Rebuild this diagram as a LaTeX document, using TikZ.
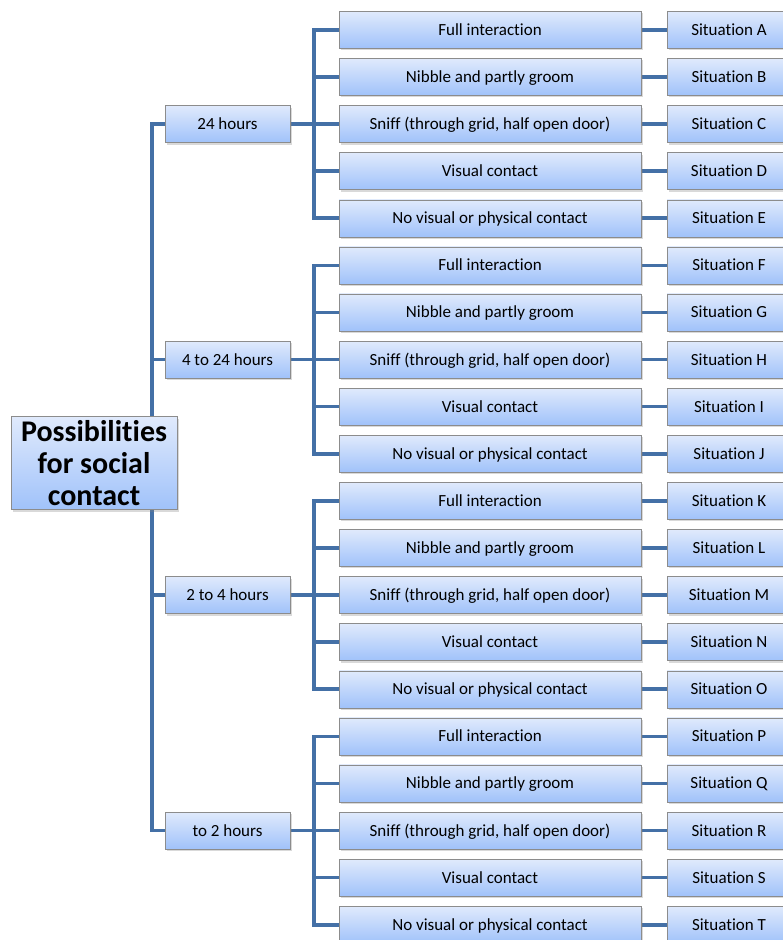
\documentclass[tikz,border=0pt]{standalone}
\usepackage{fontspec}
\setmainfont{Carlito}[Ligatures=NoCommon]
\usetikzlibrary{positioning, shadows, backgrounds}
\definecolor{linkblue}{RGB}{68,112,166}
\definecolor{boxtop}{RGB}{224,234,252}
\definecolor{boxbot}{RGB}{160,194,250}
\newcounter{sitnum}
\tikzset{
  box/.style={draw=black!45, thin, top color=boxtop, bottom color=boxbot,
    drop shadow={shadow xshift=1.5pt, shadow yshift=-2pt, opacity=0.3},
    minimum height=37pt, inner sep=0pt, text height=13pt, text depth=2pt,
    font=\fontsize{17}{20}\selectfont},
  rootbox/.style={box, minimum width=166pt, minimum height=93pt, align=center,
    text height=, text depth=, font=\fontsize{30}{32}\selectfont\bfseries},
  midbox/.style={box, minimum width=125pt},
  leafbox/.style={box, minimum width=302pt},
  sitbox/.style={box, minimum width=124pt},
  link/.style={draw=linkblue, line width=3.6pt}
}
\begin{document}
\begin{tikzpicture}[x=1pt, y=-1pt]
\useasboundingbox (0,0) rectangle (783,940);
\node (root) at (94,463) [rootbox] {Possibilities\\for social\\contact};
\node (m1) at (227.5,124)   [midbox] {24 hours};
\node (m2) at (227.5,359.5) [midbox] {4 to 24 hours};
\node (m3) at (227.5,595)   [midbox] {2 to 4 hours};
\node (m4) at (227.5,830.5) [midbox] {to 2 hours};
\foreach \g/\y in {1/124, 2/359.5, 3/595, 4/830.5}{
  \foreach \lab [count=\j] in {Full interaction, Nibble and partly groom,
      {Sniff (through grid, half open door)}, Visual contact,
      No visual or physical contact}{
    \pgfmathsetmacro\ly{\y+(\j-3)*47.1}
    \pgfmathtruncatemacro\n{(\g-1)*5+\j}
    \setcounter{sitnum}{\n}
    \node (l\g\j) at (490,\ly) [leafbox] {\lab};
    \node (s\g\j) at (729,\ly) [sitbox] {Situation \Alph{sitnum}};
    \begin{scope}[on background layer]
      \draw[link] (m\g.east) -- ++(24,0) |- (l\g\j.west);
      \draw[link] (l\g\j) -- (s\g\j);
    \end{scope}
  }
}
\begin{scope}[on background layer]
\draw[link] (m1.west) -- ++(-13,0) |- (m4.west);
\draw[link] (m2.west) -- ++(-13,0);
\draw[link] (m3.west) -- ++(-13,0);
\end{scope}
\end{tikzpicture}
\end{document}
